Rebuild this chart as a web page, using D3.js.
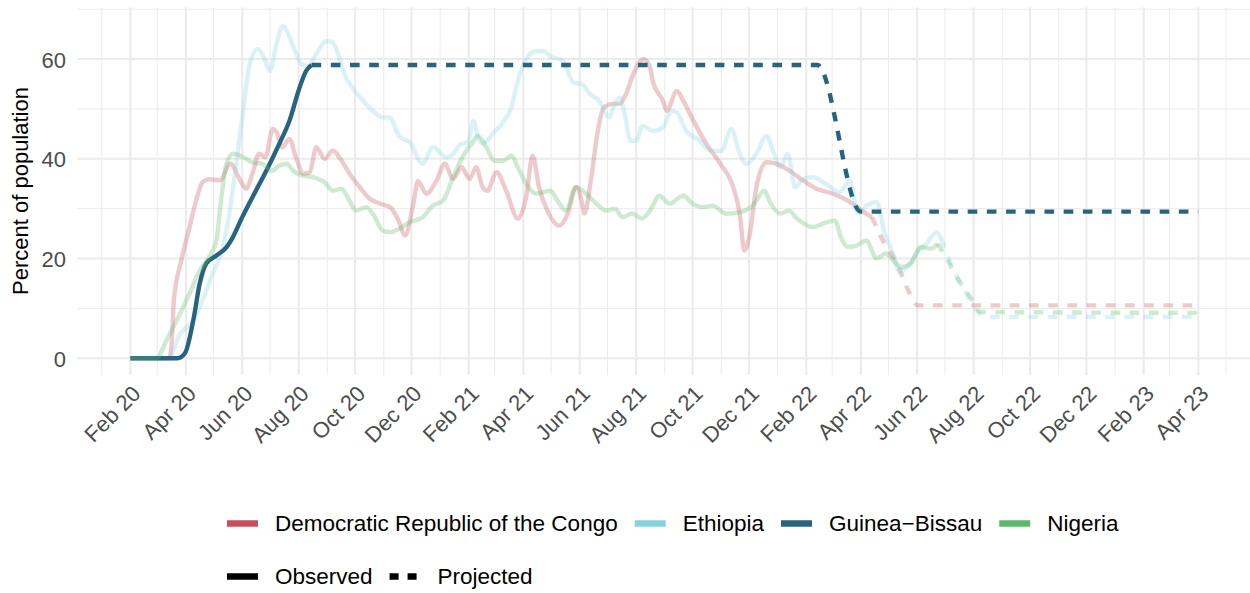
<!DOCTYPE html>
<html>
<head>
<meta charset="utf-8">
<script src="https://cdn.jsdelivr.net/npm/d3@7"></script>
<style>
body { margin: 0; background: #fff; }
svg text { font-family: "Liberation Sans", Arial, Helvetica, sans-serif; }
</style>
</head>
<body>
<svg id="vis" width="1250" height="593"></svg>
<script>
// countries, in the order ggplot drew them
var countries = ["Democratic Republic of the Congo", "Ethiopia", "Guinea\u2212Bissau", "Nigeria"];
var countryColours = ["#C84F59", "#86D3DF", "#29647F", "#5DB86B"];
var lineAlpha = [0.3, 0.3, 1, 0.3];
// last observed day, after it the line is projected
var observedEnd = ["2022-04-13", "2022-06-27", "2020-08-15", "2022-06-23"];

var drcDates = ["2020-02-01","2020-03-14","2020-03-17","2020-03-19","2020-03-27","2020-04-05","2020-04-12","2020-04-19","2020-04-26","2020-05-08",
    "2020-05-19","2020-05-30","2020-06-05","2020-06-12","2020-06-19","2020-06-26","2020-07-04","2020-07-09","2020-07-14","2020-07-22",
    "2020-07-29","2020-08-06","2020-08-13","2020-08-20","2020-08-29","2020-09-07","2020-09-14","2020-09-25","2020-10-06","2020-10-17",
    "2020-10-28","2020-11-08","2020-11-17","2020-11-24","2020-12-03","2020-12-08","2020-12-17","2020-12-28","2021-01-06","2021-01-15",
    "2021-01-24","2021-02-02","2021-02-09","2021-02-16","2021-02-21","2021-03-03","2021-03-14","2021-03-26","2021-04-04","2021-04-11",
    "2021-04-18","2021-04-27","2021-05-10","2021-05-19","2021-05-28","2021-06-03","2021-06-06","2021-06-13","2021-06-20","2021-06-27",
    "2021-07-07","2021-07-14","2021-07-21","2021-07-29","2021-08-09","2021-08-16","2021-08-19","2021-08-30","2021-09-03","2021-09-14",
    "2021-09-21","2021-10-02","2021-10-16","2021-10-31","2021-11-14","2021-11-21","2021-11-26","2021-12-02","2021-12-09","2021-12-20",
    "2021-12-31","2022-01-14","2022-01-29","2022-02-12","2022-03-02","2022-03-18","2022-04-04","2022-04-13","2022-04-25","2022-05-10",
    "2022-05-24","2022-06-02","2023-04-01"];
var drcValues = [0,0,4,11.6,19.6,26.3,31.6,35.3,35.9,35.7,
    39,35.6,34,37,41,40.3,46,45,42.3,44,
    40.3,37,37.3,42.3,40,41.6,40.3,37,34.3,32,
    31,30.3,27.6,24.6,31,35.5,33,35.6,39,36,
    38.3,36,38.3,34.3,33.6,37.3,33.3,28,32.3,40.6,
    34.3,29.6,26.6,29,34.3,31.6,29,35.6,45,50.3,
    51,51,53,57,60,58.3,55.6,51.6,49.6,53.6,
    51.6,47.6,43,39,34.3,29,21.6,25,34.3,39.3,
    39,37.6,35.6,34,33,31.6,29.3,28.3,23.6,19,
    13,10.6,10.6];

var ethDates = ["2020-02-01","2020-03-14","2020-03-17","2020-03-24","2020-04-09","2020-04-19","2020-04-30","2020-05-11","2020-05-18","2020-05-25",
    "2020-06-02","2020-06-09","2020-06-18","2020-06-25","2020-07-01","2020-07-08","2020-07-15","2020-07-21","2020-07-28","2020-08-04",
    "2020-08-11","2020-08-20","2020-08-31","2020-09-07","2020-09-14","2020-09-21","2020-09-28","2020-10-10","2020-10-20","2020-10-31",
    "2020-11-07","2020-11-18","2020-11-29","2020-12-13","2020-12-24","2021-01-08","2021-01-15","2021-01-24","2021-01-31","2021-02-06",
    "2021-02-11","2021-02-16","2021-02-27","2021-03-10","2021-03-19","2021-03-26","2021-04-03","2021-04-15","2021-04-22","2021-04-30",
    "2021-05-14","2021-05-25","2021-06-03","2021-06-12","2021-06-22","2021-07-03","2021-07-08","2021-07-14","2021-07-19","2021-07-26",
    "2021-08-01","2021-08-08","2021-08-19","2021-08-30","2021-09-08","2021-09-14","2021-09-24","2021-10-09","2021-10-20","2021-11-01",
    "2021-11-12","2021-11-21","2021-11-28","2021-12-09","2021-12-20","2021-12-27","2022-01-04","2022-01-12","2022-01-20","2022-01-29",
    "2022-02-08","2022-02-22","2022-03-09","2022-03-20","2022-03-29","2022-04-07","2022-04-18","2022-04-27","2022-05-06","2022-05-13",
    "2022-05-24","2022-05-31","2022-06-11","2022-06-22","2022-06-27","2022-07-09","2022-07-24","2022-08-04","2022-08-15","2023-04-01"];
var ethValues = [0,0,1,4.3,7.6,11.6,17,22.3,29,38.3,
    49.6,59,62,60,57.6,63,66.6,65,61.6,59,
    58.6,61,63.6,63.3,60.3,56.3,54.3,51.6,49.6,48.3,
    48.3,44.5,43.3,39,42.3,40.3,41,43,43.3,47.6,
    44.3,43,45,47.3,50.3,55.6,59.6,61.6,61.6,60.6,
    59.6,55.3,55,53,51.6,48.3,50.6,52.3,49.6,43.6,
    43.6,46.6,45.6,46.3,49.6,49.3,45.6,43.6,41.6,41.6,
    46,41,39,41,44.6,41.6,38.3,41,34.3,36,
    36.3,35,33.3,35.6,29,30.6,31.3,25,21,17.3,
    19,21,23,25.3,24,18.3,13,9.6,8.3,8.3];

var gnbDates = ["2020-02-01","2020-03-23","2020-03-31","2020-04-09","2020-04-16","2020-04-23","2020-05-04","2020-05-15","2020-05-21","2020-06-01",
    "2020-06-12","2020-06-27","2020-07-11","2020-07-22","2020-08-02","2020-08-09","2020-08-15","2022-02-13","2022-04-01","2023-04-01"];
var gnbValues = [0,0,1,7.6,15,19,20.6,22.3,24,28.3,
    32.3,37.6,43,47.6,54.3,57.6,58.8,58.8,29.4,29.4];

var ngaDates = ["2020-02-01","2020-02-29","2020-03-11","2020-03-22","2020-04-05","2020-04-16","2020-04-26","2020-05-04","2020-05-09","2020-05-15",
    "2020-05-22","2020-06-02","2020-06-12","2020-06-23","2020-07-03","2020-07-11","2020-07-19","2020-07-26","2020-08-06","2020-08-17",
    "2020-08-29","2020-09-07","2020-09-16","2020-09-25","2020-10-02","2020-10-13","2020-10-20","2020-10-31","2020-11-09","2020-11-18",
    "2020-11-29","2020-12-13","2020-12-24","2021-01-04","2021-01-15","2021-01-25","2021-02-04","2021-02-11","2021-02-20","2021-03-01",
    "2021-03-10","2021-03-19","2021-03-26","2021-04-04","2021-04-15","2021-04-30","2021-05-10","2021-05-17","2021-05-28","2021-06-08",
    "2021-06-19","2021-06-30","2021-07-09","2021-07-17","2021-07-28","2021-08-07","2021-08-16","2021-08-26","2021-09-06","2021-09-21",
    "2021-10-01","2021-10-12","2021-10-23","2021-11-06","2021-11-21","2021-12-05","2021-12-18","2021-12-23","2022-01-04","2022-01-13",
    "2022-01-22","2022-02-08","2022-02-19","2022-03-04","2022-03-11","2022-03-18","2022-03-27","2022-04-07","2022-04-18","2022-04-28",
    "2022-05-06","2022-05-15","2022-05-25","2022-06-05","2022-06-16","2022-06-23","2022-07-04","2022-07-16","2022-08-01","2022-08-08",
    "2023-04-01"];
var ngaValues = [0,0,3.6,7.6,13,17.6,20.3,23.6,31.6,39,
    41,40.3,39.3,39,37.6,38.6,39,37.6,36.6,36.3,
    35.3,33.6,34,31.6,29.6,30.3,29,25.6,25.3,26,
    27.3,28.3,30.6,31.6,36.3,40.3,43,44.6,42.3,39.6,
    39.6,40.6,38.3,35,33,33.6,31,29.6,34.3,33,
    31,29.6,30,28.3,29,28,29.6,32.6,31,32.6,
    31,30.3,30.6,29,29.3,30.6,33.6,31.6,29,29.6,
    28,26.3,27,27.6,24,22.3,22.6,23.6,20,21,
    19.6,18.3,19,22.3,22,23,19.6,15.6,11.3,9.3,
    9.1];

var seriesDates = [drcDates, ethDates, gnbDates, ngaDates];
var seriesValues = [drcValues, ethValues, gnbValues, ngaValues];

var xTickLabels = ["Feb 20","Apr 20","Jun 20","Aug 20","Oct 20","Dec 20","Feb 21","Apr 21","Jun 21","Aug 21",
    "Oct 21","Dec 21","Feb 22","Apr 22","Jun 22","Aug 22","Oct 22","Dec 22","Feb 23","Apr 23"];
var yTicks = [0, 20, 40, 60];
var yMinorTicks = [10, 30, 50, 70];
var linetypes = ["Observed", "Projected"];

var parseDay = d3.timeParse("%Y-%m-%d");
var parseTick = d3.timeParse("%b %y");

var panel = {left: 77, right: 1250, top: 7.4, bottom: 375};
var dashes = "9.6,9.6";

var svg = d3.select("#vis");

var xScale = d3.scaleTime()
    .domain([parseDay("2020-02-01"), parseDay("2023-04-01")])
    .range([130.4, 1198.3]);
var yScale = d3.scaleLinear()
    .domain([-3.35, 70.35])
    .range([panel.bottom, panel.top]);

var xMajor = xTickLabels.map(function(t){ return parseTick(t); });
var xMinor = d3.timeMonth.range(xScale.invert(panel.left), xScale.invert(panel.right));

var grid = svg.append("g");
grid.selectAll(".ymin").data(yMinorTicks).enter().append("line")
    .attr("x1", panel.left).attr("x2", panel.right)
    .attr("y1", function(d){ return yScale(d); }).attr("y2", function(d){ return yScale(d); })
    .attr("stroke", "#EBEBEB").attr("stroke-width", 1);
grid.selectAll(".xmin").data(xMinor).enter().append("line")
    .attr("y1", panel.top).attr("y2", panel.bottom)
    .attr("x1", function(d){ return xScale(d); }).attr("x2", function(d){ return xScale(d); })
    .attr("stroke", "#EBEBEB").attr("stroke-width", 1);
grid.selectAll(".ymaj").data(yTicks).enter().append("line")
    .attr("x1", panel.left).attr("x2", panel.right)
    .attr("y1", function(d){ return yScale(d); }).attr("y2", function(d){ return yScale(d); })
    .attr("stroke", "#EBEBEB").attr("stroke-width", 2);
grid.selectAll(".xmaj").data(xMajor).enter().append("line")
    .attr("y1", panel.top).attr("y2", panel.bottom)
    .attr("x1", function(d){ return xScale(d); }).attr("x2", function(d){ return xScale(d); })
    .attr("stroke", "#EBEBEB").attr("stroke-width", 2);

// lines
var line = d3.line()
    .x(function(d){ return xScale(d.date); })
    .y(function(d){ return yScale(d.value); })
    .curve(d3.curveMonotoneX);

countries.forEach(function(c, i){
    var pts = seriesDates[i].map(function(d, j){ return {date: parseDay(d), value: seriesValues[i][j]}; });
    var end = parseDay(observedEnd[i]);
    var obs = pts.filter(function(p){ return p.date <= end; });
    var proj = pts.filter(function(p){ return p.date >= end; });
    svg.append("path").datum(obs)
        .attr("d", line)
        .attr("fill", "none")
        .attr("stroke", countryColours[i])
        .attr("stroke-opacity", lineAlpha[i])
        .attr("stroke-width", 4.4);
    svg.append("path").datum(proj)
        .attr("d", line)
        .attr("fill", "none")
        .attr("stroke", countryColours[i])
        .attr("stroke-opacity", lineAlpha[i])
        .attr("stroke-width", 4.4)
        .attr("stroke-dasharray", dashes);
});

// axes
var yAxis = svg.append("g")
    .attr("transform", "translate(66,0)")
    .call(d3.axisLeft(yScale).tickValues(yTicks).tickSize(0).tickPadding(0));
yAxis.select(".domain").remove();
yAxis.selectAll("text")
    .attr("dy", "0.37em")
    .attr("fill", "#4D4D4D")
    .style("font-size", "22px");

var xAxis = svg.append("g")
    .attr("transform", "translate(0,384)")
    .call(d3.axisBottom(xScale).tickValues(xMajor).tickSize(0).tickPadding(0)
        .tickFormat(function(d, i){ return xTickLabels[i]; }));
xAxis.select(".domain").remove();
xAxis.selectAll("text")
    .attr("y", 0)
    .attr("dy", "0.71em")
    .attr("text-anchor", "end")
    .attr("transform", "rotate(-45)")
    .attr("fill", "#4D4D4D")
    .style("font-size", "22px");

svg.append("text")
    .attr("transform", "translate(28,191) rotate(-90)")
    .attr("text-anchor", "middle")
    .style("font-size", "22px")
    .attr("fill", "#000")
    .text("Percent of population");

// legend
function legendRow(items, y, styleKey){
    var x = 227;
    items.forEach(function(name, i){
        var k = svg.append("line")
            .attr("x1", x).attr("x2", x + 31)
            .attr("y1", y).attr("y2", y)
            .attr("stroke-width", 6.5);
        styleKey(k, i);
        var t = svg.append("text")
            .attr("x", x + 48).attr("y", y)
            .attr("dy", "0.35em")
            .style("font-size", "22.5px")
            .attr("fill", "#000")
            .text(name);
        x = x + 48 + t.node().getComputedTextLength() + 17;
    });
}
legendRow(countries, 523.5, function(k, i){ k.attr("stroke", countryColours[i]); });
legendRow(linetypes, 576.5, function(k, i){
    k.attr("stroke", "#000");
    if (i == 1) k.attr("stroke-dasharray", "9,9");
});
</script>
</body>
</html>
